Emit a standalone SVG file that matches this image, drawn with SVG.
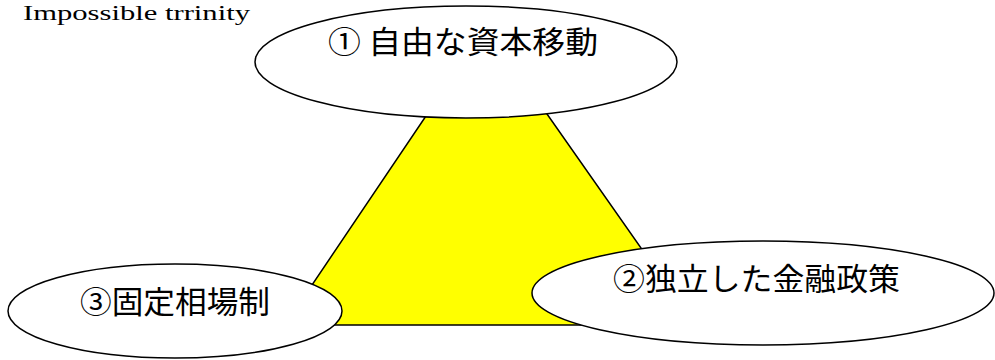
<svg xmlns="http://www.w3.org/2000/svg" width="995" height="360" viewBox="0 0 995 360">
<style>
.ell{fill:#ffffff;stroke:#000000;stroke-width:1.5}
.jp{font-family:"Noto Sans CJK JP","Noto Sans CJK SC",sans-serif;font-size:31px;fill:#000}
.title{font-family:"Liberation Serif",serif;font-size:21px;fill:#000}
</style>
<rect width="995" height="360" fill="#ffffff"/>
<text class="title" x="23" y="20" textLength="227" lengthAdjust="spacingAndGlyphs">Impossible trrinity</text>
<g id="connectors">
<polygon points="486,27 285,325 695,325" fill="#ffff00" stroke="#000" stroke-width="1.5"/>
</g>
<g id="node1">
<ellipse class="ell" cx="466" cy="62" rx="211" ry="56"/>
<text class="jp" x="328" y="53" textLength="270" lengthAdjust="spacingAndGlyphs">① 自由な資本移動</text>
</g>
<g id="node3">
<ellipse class="ell" cx="175" cy="311" rx="167" ry="47"/>
<text class="jp" x="80" y="313" textLength="190" lengthAdjust="spacingAndGlyphs">③固定相場制</text>
</g>
<g id="node2">
<ellipse class="ell" cx="763" cy="293" rx="231" ry="52"/>
<text class="jp" x="613" y="290" textLength="287" lengthAdjust="spacingAndGlyphs">②独立した金融政策</text>
</g>
</svg>
